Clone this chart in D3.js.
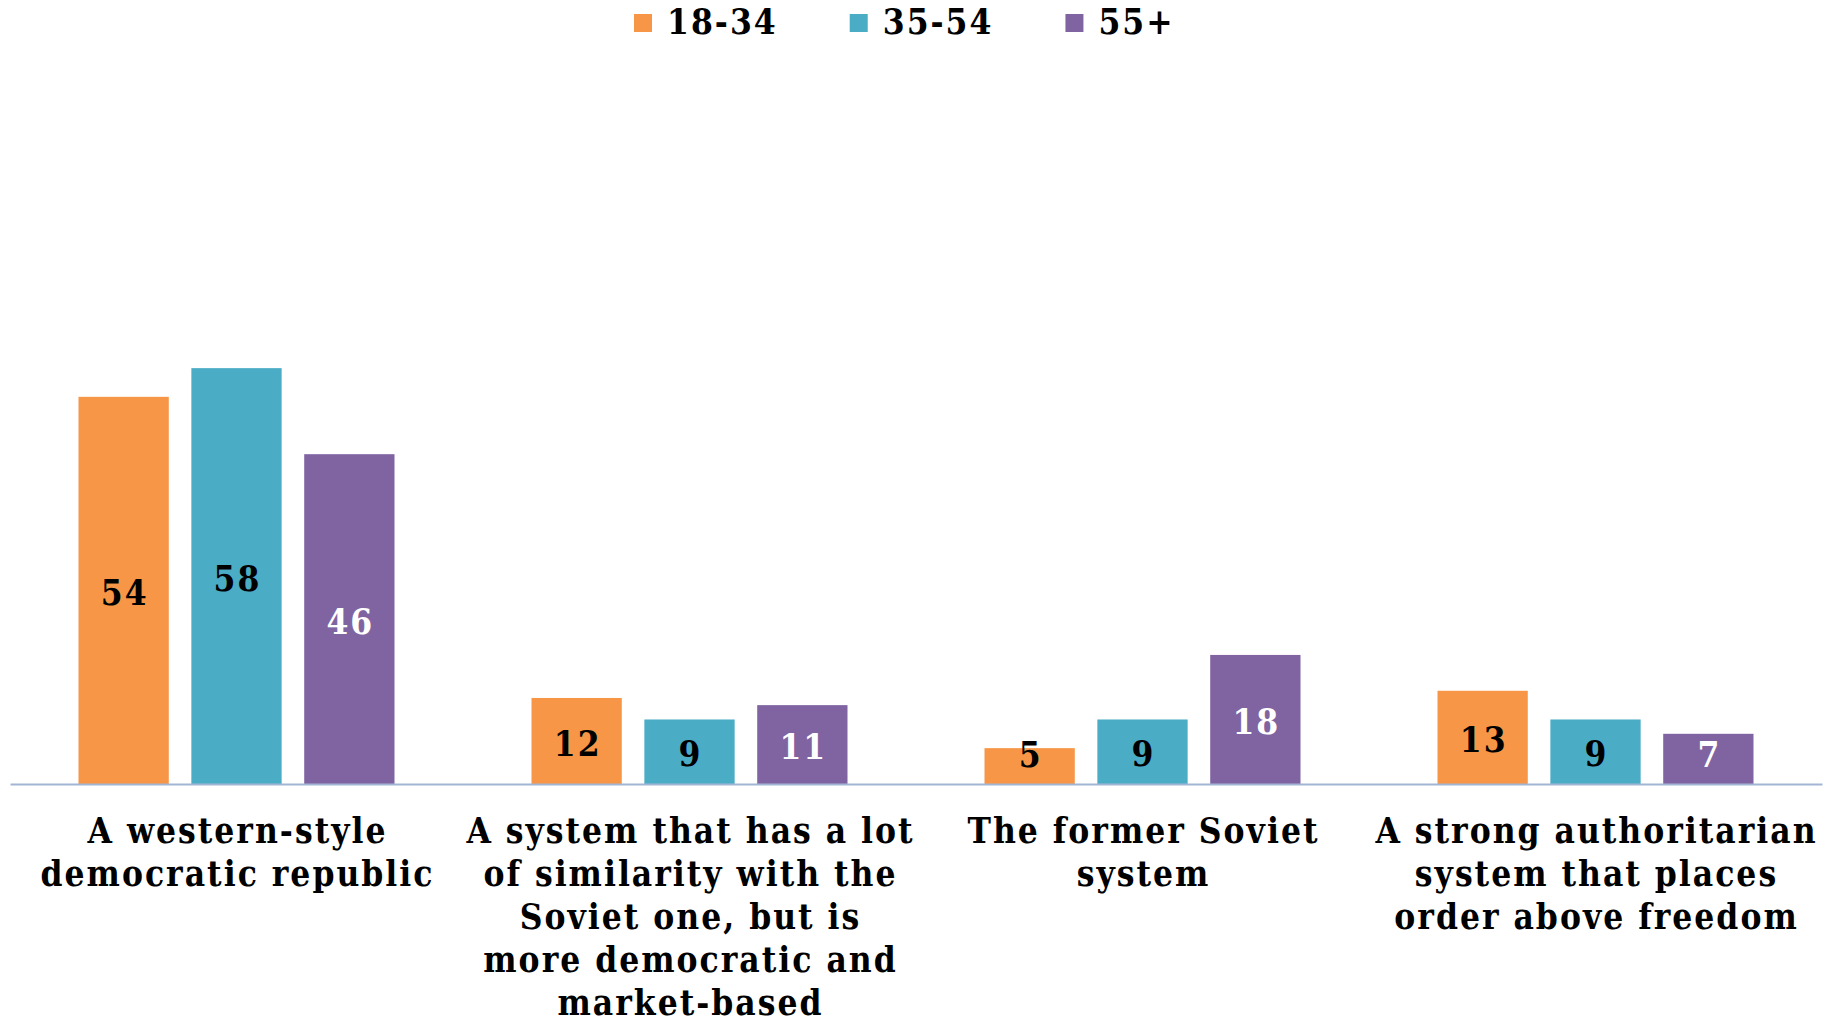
<!DOCTYPE html>
<html>
<head>
<meta charset="utf-8">
<script src="https://cdn.jsdelivr.net/npm/d3@7"></script>
<style>
  html, body { margin: 0; padding: 0; background: #ffffff; }
  svg { display: block; }
  text { font-family: "DejaVu Serif", Cambria, serif; font-weight: bold; font-stretch: condensed; letter-spacing: 2px; }
</style>
</head>
<body>
<svg id="chart" width="1833" height="1023"></svg>
<script>
// ---- data ----
const categories = [
  "A western-style democratic republic",
  "A system that has a lot of similarity with the Soviet one, but is more democratic and market-based",
  "The former Soviet system",
  "A strong authoritarian system that places order above freedom"
];
const categoryLines = [
  ["A western-style", "democratic republic"],
  ["A system that has a lot", "of similarity with the", "Soviet one, but is", "more democratic and", "market-based"],
  ["The former Soviet", "system"],
  ["A strong authoritarian", "system that places", "order above freedom"]
];
const seriesNames = ["18-34", "35-54", "55+"];
const values_18_34 = [54, 12, 5, 13];
const values_35_54 = [58, 9, 9, 9];
const values_55_plus = [46, 11, 18, 7];
const seriesColors = ["#F79646", "#4BACC6", "#8064A2"];
const labelColors = ["#000000", "#000000", "#ffffff"];

const seriesValues = [values_18_34, values_35_54, values_55_plus];

// ---- layout ----
const svg = d3.select("#chart");
const baseY = 784, topY = 67;
const x0 = d3.scaleBand().domain(categories).range([10, 1822]).padding(0);
const groupPad = 68.5;
const x1 = d3.scaleBand().domain(seriesNames)
  .range([groupPad, x0.bandwidth() - groupPad]).paddingInner(0.2).paddingOuter(0);
const y = d3.scaleLinear().domain([0, 100]).range([baseY, topY]);

const fontSize = 35;

// bars
const groups = svg.append("g").selectAll("g")
  .data(categories)
  .join("g")
  .attr("transform", d => `translate(${x0(d)},0)`);

groups.each(function(cat, ci) {
  const g = d3.select(this);
  const rows = seriesNames.map((s, si) => ({ s, si, v: seriesValues[si][ci] }));
  g.selectAll("rect").data(rows).join("rect")
    .attr("x", d => x1(d.s))
    .attr("y", d => y(d.v))
    .attr("width", x1.bandwidth())
    .attr("height", d => baseY - y(d.v))
    .attr("fill", d => seriesColors[d.si]);
  g.selectAll("text.val").data(rows).join("text")
    .attr("class", "val")
    .attr("x", d => x1(d.s) + x1.bandwidth() / 2 + 1)
    .attr("y", d => Math.min((y(d.v) + baseY) / 2, baseY - 32) + 2)
    .attr("dy", "0.36em")
    .attr("text-anchor", "middle")
    .attr("font-size", fontSize)
    .attr("fill", d => labelColors[d.si])
    .text(d => d.v);
});

// axis
const xAxis = d3.axisBottom(x0).tickSize(0).tickFormat("");
const axG = svg.append("g").attr("transform", `translate(0,${baseY})`).call(xAxis);
axG.select(".domain").attr("stroke", "#A3B5D4").attr("stroke-width", 2);

// category labels
const lineH = 43;
categories.forEach((cat, ci) => {
  const t = svg.append("text")
    .attr("text-anchor", "middle")
    .attr("font-size", fontSize)
    .attr("fill", "#000");
  categoryLines[ci].forEach((ln, li) => {
    t.append("tspan")
      .attr("x", x0(cat) + x0.bandwidth() / 2 + 1)
      .attr("y", 843 + li * lineH)
      .text(ln);
  });
});

// legend
const legend = svg.append("g");
let lx = 634;
seriesNames.forEach((s, si) => {
  legend.append("rect").attr("x", lx).attr("y", 14).attr("width", 18).attr("height", 18)
    .attr("fill", seriesColors[si]);
  const t = legend.append("text").attr("x", lx + 33).attr("y", 34)
    .attr("font-size", fontSize).attr("fill", "#000").text(s);
  lx += 33 + t.node().getComputedTextLength() + 72;
});
</script>
</body>
</html>
